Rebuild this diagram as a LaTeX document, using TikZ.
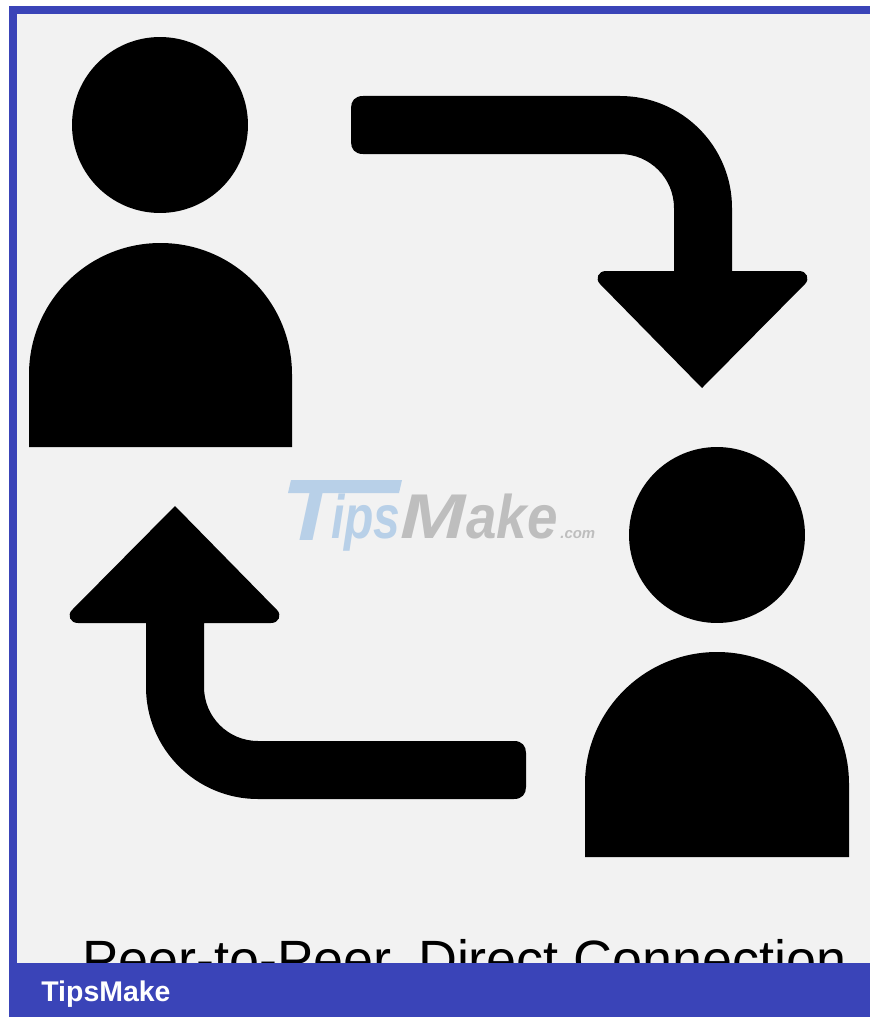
\documentclass[tikz,border=0pt]{standalone}
\usepackage{fontspec}
\setmainfont{Liberation Sans}
\usepackage{xcolor}
\definecolor{tipsblue}{RGB}{58,68,184}
\definecolor{panelgrey}{RGB}{242,242,242}
\definecolor{markblue}{RGB}{184,208,232}
\definecolor{markgrey}{RGB}{190,190,190}
\usetikzlibrary{positioning}

\begin{document}
\begin{tikzpicture}[x=0.02cm, y=-0.02cm,
    head/.style={circle, fill=black, minimum size=3.52cm, inner sep=0pt},
    shapeblk/.style={fill=black},
    wm/.style={inner sep=0pt, anchor=base west, transform shape},
    bar/.style={fill=tipsblue}]
\useasboundingbox (0,0) rectangle (870,1017);
\fill[white] (0,0) rectangle (870,1017);
\fill[panelgrey] (9,6) rectangle (870,1017);
% frame
\fill[bar] (9,6) rectangle (870,14);
\fill[bar] (9,6) rectangle (17,1017);
% people
\node[head] (head1) at (160,125) {};
\node[head] (head2) at (717,535) {};
\fill[shapeblk] (29,447) -- (29,374.5) arc[start angle=180, end angle=0, x radius=131.5, y radius=-131.5] -- (292,447) -- cycle;
\fill[shapeblk] (585,857) -- (585,784) arc[start angle=180, end angle=0, x radius=132, y radius=-132] -- (849,857) -- cycle;
% arrows
\fill[shapeblk] (363,96) -- (620,96) arc[start angle=90, end angle=0, x radius=112, y radius=-112]
    -- (732,271) -- (799,271) .. controls (807,271) and (810,279) .. (805,284) -- (702,388) -- (600,284)
    .. controls (595,279) and (598,271) .. (606,271) -- (674,271) -- (674,208)
    arc[start angle=0, end angle=90, x radius=54, y radius=-54] -- (363,154)
    .. controls (355,154) and (351,149) .. (351,142) -- (351,108) .. controls (351,101) and (355,96) .. (363,96) -- cycle;
\fill[shapeblk] (514,799) -- (258,799) arc[start angle=270, end angle=180, x radius=112, y radius=-112]
    -- (146,623) -- (78,623) .. controls (70,623) and (67,615) .. (72,610) -- (175,506) -- (277,610)
    .. controls (282,615) and (279,623) .. (271,623) -- (204,623) -- (204,687)
    arc[start angle=180, end angle=270, x radius=54, y radius=-54] -- (514,741)
    .. controls (522,741) and (526,746) .. (526,753) -- (526,787) .. controls (526,794) and (522,799) .. (514,799) -- cycle;
% watermark
\node[wm, text=markblue, xscale=1.1, font=\fontsize{47}{47}\selectfont\bfseries\itshape] (wmt) at (283,540) {T};
\fill[markblue] (291,480) -- (402,480) -- (399,493) -- (288,493) -- cycle;
\node[wm, text=markblue, xscale=0.78, font=\fontsize{35}{35}\selectfont\bfseries\itshape] (wmips) at (331,538) {ips};
\node[wm, text=markgrey, xscale=1.24, font=\fontsize{36}{36}\selectfont\bfseries\itshape] (wmm) at (400,538) {M};
\node[wm, text=markgrey, xscale=0.89, font=\fontsize{35}{35}\selectfont\bfseries\itshape] (wmake) at (466,538) {ake};
\node[wm, text=markgrey, font=\fontsize{8.5}{8.5}\selectfont\bfseries\itshape] (wmcom) at (560,538) {.com};
% caption, cut by the bar
\node[inner sep=0pt, anchor=base west, font=\fontsize{30.7}{30.7}\selectfont] (caption) at (82,978) {Peer-to-Peer, Direct Connection};
\fill[bar] (9,963) rectangle (870,1017);
\node[inner sep=0pt, anchor=base west, text=white, font=\fontsize{16.2}{16.2}\selectfont\bfseries] (brand) at (41,1001) {TipsMake};
\end{tikzpicture}
\end{document}
